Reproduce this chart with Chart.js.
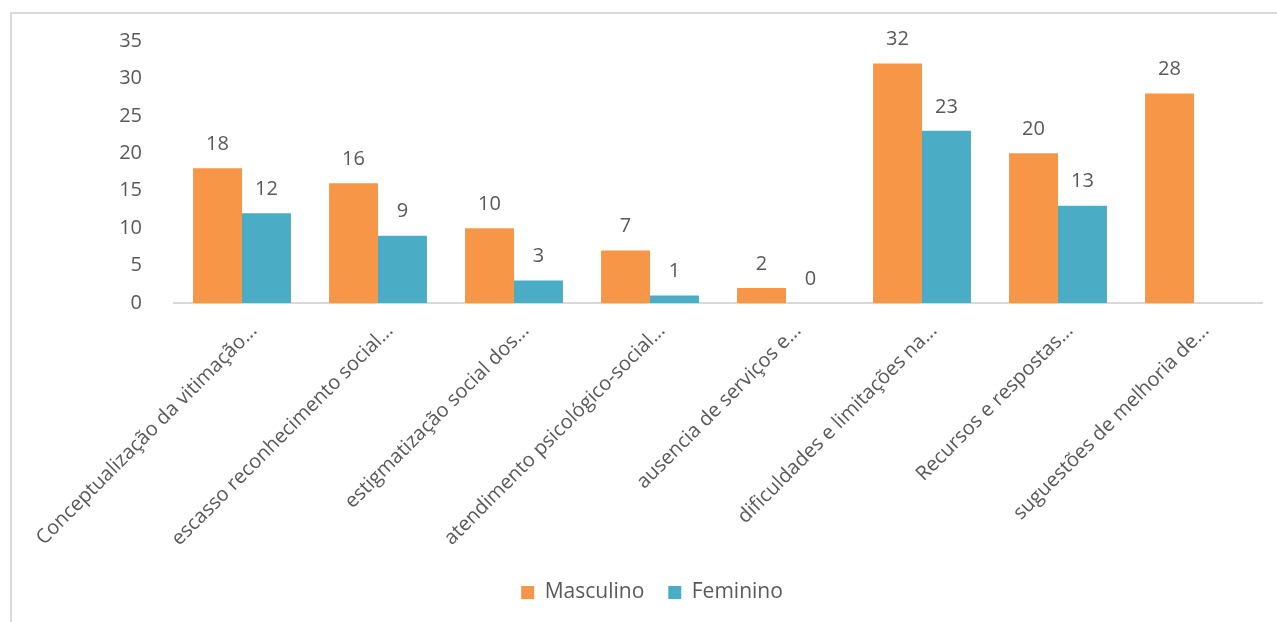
<!DOCTYPE html>
<html>
<head>
<meta charset="utf-8">
<script src="https://cdn.jsdelivr.net/npm/chart.js@4.4.1/dist/chart.umd.min.js"></script>
<style>
  html, body { margin:0; padding:0; width:1277px; height:622px; overflow:hidden; background:#fff; }
  #frame { position:absolute; left:10px; top:12px; width:1400px; height:800px; border:2px solid #d9d9d9; box-sizing:border-box; }
  #wrap { position:absolute; left:0; top:0; width:1277px; height:622px; }
</style>
</head>
<body>
<div id="frame"></div>
<div id="wrap"><canvas id="chart"></canvas></div>
<script>
// ── DATA ───────────────────────────────────────────
const categories = [
  'Conceptualização da vitimação...',
  'escasso reconhecimento social...',
  'estigmatização social dos...',
  'atendimento psicológico-social...',
  'ausencia de serviços e...',
  'dificuldades e limitações na...',
  'Recursos e respostas...',
  'suguestões de melhoria de...'
];
const masculino = [18, 16, 10, 7, 2, 32, 20, 28];
const feminino  = [12, 9, 3, 1, 0, 23, 13, null];
const yTicks    = [0, 5, 10, 15, 20, 25, 30, 35];

const TEXT = '#595959';
const FONT = '"Open Sans", sans-serif';

// value labels above bars (no datalabels plugin offline)
const barLabels = {
  id: 'barLabels',
  afterDatasetsDraw(chart) {
    const ctx = chart.ctx;
    ctx.save();
    ctx.font = `20px ${FONT}`;
    ctx.fillStyle = TEXT;
    ctx.textAlign = 'center';
    ctx.textBaseline = 'middle';
    chart.data.datasets.forEach((ds, i) => {
      chart.getDatasetMeta(i).data.forEach((bar, j) => {
        const v = ds.data[j];
        if (v === null || v === undefined) return;
        ctx.fillText(String(v), bar.x, bar.y - 24);
      });
    });
    ctx.restore();
  }
};

// nudge legend a bit right, like the original
const legendShift = {
  id: 'legendShift',
  afterLayout(chart) {
    if (!chart.legend) return;
    chart.legend.left += 21;
    chart.legend.right += 21;
  }
};

new Chart(document.getElementById('chart'), {
  type: 'bar',
  data: {
    labels: categories,
    datasets: [
      { label: 'Masculino', data: masculino, backgroundColor: '#F79646', categoryPercentage: 0.72, barPercentage: 1.0 },
      { label: 'Feminino',  data: feminino,  backgroundColor: '#4BACC6', categoryPercentage: 0.72, barPercentage: 1.0 }
    ]
  },
  options: {
    responsive: true, maintainAspectRatio: false, animation: false,
    layout: { padding: { left: 0, right: 15, top: 41, bottom: 9 } },
    plugins: {
      tooltip: { enabled: false },
      legend: {
        position: 'bottom',
        labels: { boxWidth: 13, boxHeight: 13, padding: 24, color: TEXT, font: { family: FONT, size: 21 } }
      }
    },
    scales: {
      x: {
        grid: { display: false },
        border: { display: true, color: '#d9d9d9', width: 2 },
        ticks: { color: TEXT, font: { family: FONT, size: 20 }, minRotation: 45, maxRotation: 45, autoSkip: false, padding: 8, labelOffset: 12 },
        afterFit: s => { s.height = 255; }
      },
      y: {
        min: 0, max: 35,
        afterBuildTicks: s => { s.ticks = yTicks.map(v => ({ value: v })); },
        grid: { display: false },
        border: { display: false },
        ticks: { color: TEXT, font: { family: FONT, size: 20 }, padding: 24 },
        afterFit: s => { s.width = 174; }
      }
    }
  },
  plugins: [barLabels, legendShift]
});
</script>
</body>
</html>
